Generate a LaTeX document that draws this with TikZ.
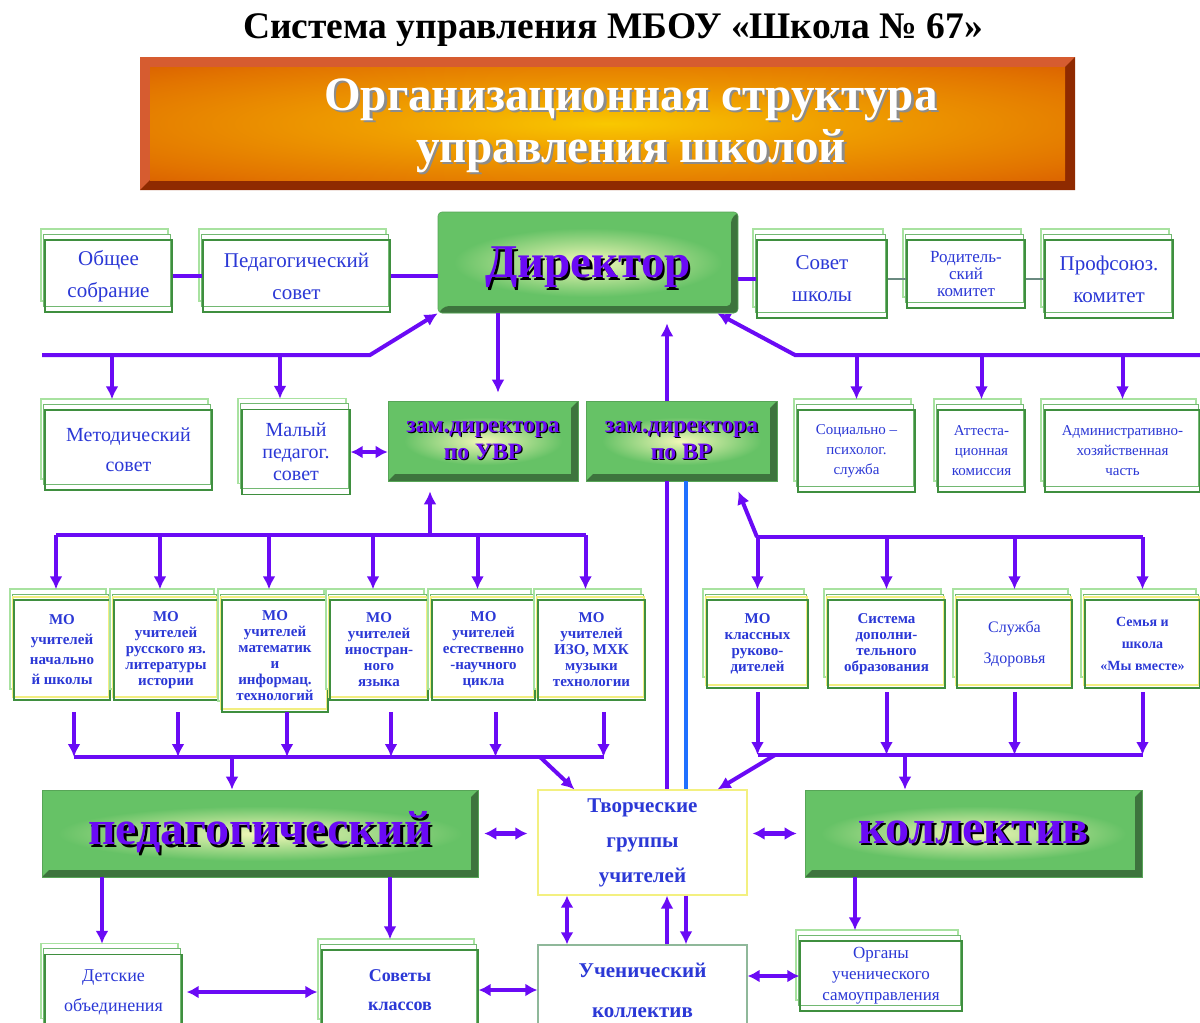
\documentclass[tikz,border=0pt]{standalone}
\usepackage{fontspec}
\setmainfont{Liberation Serif}
\newfontfamily\narrowserif[FakeStretch=0.98]{Liberation Serif}
\usetikzlibrary{arrows.meta,shadows}

\definecolor{arrowviolet}{HTML}{6A0AF5}
\definecolor{textblue}{HTML}{2B38D6}
\definecolor{boxgreen}{HTML}{66C266}
\definecolor{glowyellow}{HTML}{F2F8B8}
\definecolor{framegreen}{HTML}{3F8F3F}
\definecolor{midframe}{HTML}{72B872}
\definecolor{paleframe}{HTML}{A8E2A0}
\definecolor{paleyellow}{HTML}{F2EE80}
\definecolor{tvoryellow}{HTML}{F3F080}
\definecolor{uchgray}{HTML}{8FB89A}
\definecolor{linkgray}{HTML}{6A8A80}
\definecolor{lineblue}{HTML}{1F70FF}
\definecolor{bannerbevel}{HTML}{D65C30}
\definecolor{bannerred}{HTML}{CC3C00}
\definecolor{bannerorange}{HTML}{E27400}
\definecolor{bannermid}{HTML}{F0A000}
\definecolor{banneryellow}{HTML}{F9C800}

\newcommand\shadowed[2][black]{\leavevmode\rlap{\kern.05em\raisebox{-.05em}{\textcolor{#1}{#2}}}#2}

\pgfdeclareradialshading{bannerglow}{\pgfpoint{0bp}{0bp}}{%
  color(0bp)=(banneryellow); color(12bp)=(bannermid);
  color(30bp)=(bannerorange); color(50bp)=(bannerred)}

\tikzset{
  arr/.style={draw=arrowviolet, line width=4pt, -{Latex[length=13pt,width=13pt]}},
  arrc/.style={arr, shorten >=10pt},
  darr/.style={draw=arrowviolet, line width=4.5pt, {Latex[length=12pt,width=13pt]}-{Latex[length=12pt,width=13pt]}},
  vline/.style={draw=arrowviolet, line width=4pt},
  thinline/.style={draw=linkgray, line width=1.5pt},
  card/.style={draw=framegreen, line width=1.3pt, text=textblue, align=center, inner sep=1pt,
    font=\fontsize{21}{32}\selectfont,
    copy shadow={shadow xshift=-4pt, shadow yshift=11pt, draw=paleframe, fill=white, line width=1.3pt},
    copy shadow={shadow xshift=-2pt, shadow yshift=6pt, draw=midframe, fill=white, line width=1pt}},
  mo/.style={card, font=\bfseries\fontsize{15}{16}\selectfont,
    copy shadow={shadow xshift=-1pt, shadow yshift=3pt, draw=paleyellow, fill=white, line width=1.5pt}},
  greenbox/.style={fill=boxgreen, draw=boxgreen!85!black, line width=.6pt, text=arrowviolet, align=center,
    path picture={
      \fill[boxgreen!60!black] (path picture bounding box.south west) -- (path picture bounding box.south east)
        -- (path picture bounding box.north east) -- ([shift={(-7pt,-7pt)}]path picture bounding box.north east)
        -- ([shift={(-7pt,7pt)}]path picture bounding box.south east) -- ([shift={(7pt,7pt)}]path picture bounding box.south west) -- cycle;
      \shade[inner color=glowyellow, outer color=boxgreen]
        ([shift={(16pt,-16pt)}]path picture bounding box.north west) rectangle ([shift={(-16pt,16pt)}]path picture bounding box.south east);
    }},
  banner/.style={fill=bannerbevel,
    path picture={
      \fill[bannerred!70!black] (path picture bounding box.south west) -- (path picture bounding box.south east)
        -- (path picture bounding box.north east) -- ([shift={(-10pt,-10pt)}]path picture bounding box.north east)
        -- ([shift={(-10pt,10pt)}]path picture bounding box.south east) -- ([shift={(10pt,10pt)}]path picture bounding box.south west) -- cycle;
      \shade[shading=bannerglow] ([shift={(10pt,-10pt)}]path picture bounding box.north west) rectangle ([shift={(-10pt,10pt)}]path picture bounding box.south east);
    }},
  plainbox/.style={line width=1.2pt, fill=white, text=textblue, align=center, font=\bfseries\fontsize{21}{35}\selectfont}
}

\begin{document}
\begin{tikzpicture}[x=1pt,y=-1pt]
\useasboundingbox (0,0) rectangle (1200,1023);

% header
\node[font=\bfseries\fontsize{37.5}{42}\selectfont] (title) at (613,30) {Система управления МБОУ «Школа № 67»};
\node[banner, minimum width=935pt, minimum height=133pt] (banner) at (607.5,123.5) {};
\node[text=white, align=center, font=\narrowserif\bfseries\fontsize{48}{52}\selectfont] (bannertxt) at (631,127)
  {\shadowed[black!45]{Организационная структура}\\\shadowed[black!45]{управления школой}};

% director and councils
\node[greenbox, rounded corners=4pt, minimum width=300pt, minimum height=101pt, text depth=0pt,
  font=\bfseries\fontsize{47}{50}\selectfont] (dir) at (588,262.5) {\shadowed{Директор}};
\node[card, minimum width=127pt, minimum height=72pt] (obsh) at (108.5,276) {Общее\\собрание};
\node[card, minimum width=187pt, minimum height=72pt] (pedsov) at (296.5,276) {Педагогический\\совет};
\node[card, minimum width=130pt, minimum height=78pt] (sovsch) at (822,279) {Совет\\школы};
\node[card, minimum width=118pt, minimum height=68pt, font=\fontsize{17}{17}\selectfont] (rodkom) at (966,274) {Родитель-\\ский\\комитет};
\node[card, minimum width=128pt, minimum height=78pt] (profkom) at (1109,279) {Профсоюз.\\комитет};

% deputies row
\node[card, minimum width=167pt, minimum height=80pt, font=\fontsize{20}{30}\selectfont] (metsov) at (128.5,450) {Методический\\совет};
\node[card, minimum width=108pt, minimum height=85pt, font=\fontsize{20}{22}\selectfont] (malsov) at (296,452) {Малый\\педагог.\\совет};
\node[greenbox, minimum width=190pt, minimum height=80pt, font=\bfseries\fontsize{23.5}{27}\selectfont] (zamuvr) at (483,441) {\shadowed{зам.директора}\\\shadowed{по УВР}};
\node[greenbox, minimum width=191pt, minimum height=80pt, font=\bfseries\fontsize{23.5}{27}\selectfont] (zamvr) at (681.5,441) {\shadowed{зам.директора}\\\shadowed{по ВР}};
\node[card, minimum width=117pt, minimum height=82pt, font=\fontsize{15}{20}\selectfont] (socps) at (856.5,451) {Социально –\\психолог.\\служба};
\node[card, minimum width=87pt, minimum height=82pt, font=\fontsize{15}{20}\selectfont] (attest) at (981.5,451) {Аттеста-\\ционная\\комиссия};
\node[card, minimum width=155pt, minimum height=82pt, font=\fontsize{15}{20}\selectfont] (ahch) at (1122.5,451) {Административно-\\хозяйственная\\часть};

% method unions
\node[mo, minimum width=96pt, minimum height=100pt, font=\bfseries\fontsize{15}{20}\selectfont] (mo1) at (62,650) {МО\\учителей\\начально\\й школы};
\node[mo, minimum width=104pt, minimum height=100pt] (mo2) at (166,650) {МО\\учителей\\русского яз.\\литературы\\истории};
\node[mo, minimum width=106pt, minimum height=112pt] (mo3) at (275,656) {МО\\учителей\\математик\\и\\информац.\\технологий};
\node[mo, minimum width=98pt, minimum height=100pt] (mo4) at (379,650) {МО\\учителей\\иностран-\\ного\\языка};
\node[mo, minimum width=103pt, minimum height=100pt] (mo5) at (483.5,650) {МО\\учителей\\естественно\\-научного\\цикла};
\node[mo, minimum width=107pt, minimum height=100pt] (mo6) at (591.5,650) {МО\\учителей\\ИЗО, МХК\\музыки\\технологии};
\node[mo, minimum width=101pt, minimum height=88pt] (mok) at (757.5,644) {МО\\классных\\руково-\\дителей};
\node[mo, minimum width=117pt, minimum height=88pt] (dop) at (886.5,644) {Система\\дополни-\\тельного\\образования};
\node[mo, minimum width=115pt, minimum height=88pt, font=\fontsize{16}{31}\selectfont] (zdor) at (1014.5,644) {Служба\\Здоровья};
\node[mo, minimum width=115pt, minimum height=88pt, font=\bfseries\fontsize{14}{22}\selectfont] (semya) at (1142.5,644) {Семья и\\школа\\«Мы вместе»};

% collectives
\node[greenbox, minimum width=436pt, minimum height=87pt, font=\bfseries\fontsize{48}{50}\selectfont] (ped) at (260,833.5) {\shadowed{педагогический}};
\node[plainbox, draw=tvoryellow, minimum width=209pt, minimum height=105pt] (tvor) at (642.5,842.5) {Творческие\\группы\\учителей};
\node[greenbox, minimum width=337pt, minimum height=87pt, font=\bfseries\fontsize{48}{50}\selectfont] (koll) at (973.5,833.5) {\shadowed{коллектив}};
\node[card, minimum width=137pt, minimum height=75pt, font=\fontsize{18}{30}\selectfont] (det) at (113.5,992) {Детские\\объединения};
\node[card, minimum width=156pt, minimum height=80pt, font=\bfseries\fontsize{18}{29}\selectfont] (sovkl) at (400,990) {Советы\\классов};
\node[plainbox, draw=uchgray, minimum width=209pt, minimum height=90pt, font=\bfseries\fontsize{21}{40}\selectfont] (uch) at (642.5,990) {Ученический\\коллектив};
\node[card, minimum width=162pt, minimum height=70pt, font=\fontsize{17}{21}\selectfont] (org) at (881,976) {Органы\\ученического\\самоуправления};

% top links
\draw[vline] (obsh) -- (pedsov);
\draw[vline] (pedsov.east) -- (pedsov.east -| dir.west);
\draw[vline] (sovsch.west -| dir.east) -- (sovsch.west);
\draw[thinline] (sovsch.east) -- (sovsch.east -| rodkom.west);
\draw[thinline] (rodkom.east |- profkom.west) -- (profkom.west);

\coordinate (lbus) at (42,355);
\coordinate (lknee) at (370,355);
\coordinate (rbus) at (1200,355);
\coordinate (rknee) at (795,355);
\coordinate (metx) at (112,0);
\coordinate (malx) at (280,0);
\draw[arr] (lbus) -- (lknee) -- (dir.south west);
\draw[arr] (rbus) -- (rknee) -- ([xshift=-21pt]dir.south east);
\draw[arrc] (lbus -| metx) -- (metsov.north -| metx);
\draw[arrc] (lbus -| malx) -- (malsov.north -| malx);
\foreach \n in {socps,attest,ahch} \draw[arrc] (rbus -| \n.north) -- (\n.north);

\coordinate (uvrx) at (498,0);
\coordinate (vp) at (667,0);
\coordinate (vb) at (686,0);
\coordinate (vd) at (567,0);
\draw[arr, shorten >=8pt] (dir.south -| uvrx) -- (zamuvr.north -| uvrx);
\draw[arr, shorten >=10pt] (zamvr.north -| vp) -- (dir.south -| vp);
\draw[vline] (zamvr.south -| vp) -- (tvor.north -| vp);
\draw[draw=lineblue, line width=4pt] (zamvr.south -| vb) -- (tvor.north -| vb);
\draw[darr] (malsov.east) -- (malsov.east -| zamuvr.west);

% left unions
\coordinate (ubus) at (430,535);
\draw[arr, shorten >=10pt] (ubus) -- (ubus |- zamuvr.south);
\draw[vline, transform canvas={xshift=-6pt}] (mo1.north |- ubus) -- (mo6.north |- ubus);
\foreach \i in {1,...,6} \draw[arrc, transform canvas={xshift=-6pt}] (mo\i.north |- ubus) -- (mo\i.north);
\coordinate (lowbus) at (0,757);
\coordinate (motail) at (0,712);
\draw[vline, transform canvas={xshift=12pt}] (mo1.south |- lowbus) -- (mo6.south |- lowbus);
\foreach \i in {1,...,6} \draw[arr, transform canvas={xshift=12pt}] (mo\i.south |- motail) -- (mo\i.south |- lowbus);
\coordinate (pedin) at (232,757);
\coordinate (tvinl) at (540,757);
\draw[arr] (pedin) -- (pedin |- ped.north);
\draw[arr] (tvinl) -- ([xshift=37pt]tvor.north west);

% right unions
\coordinate (vrbus) at (757,537);
\draw[arr] (vrbus) -- ([xshift=-39pt,yshift=-10pt]zamvr.south east);
\draw[vline] (mok.north |- vrbus) -- (semya.north |- vrbus);
\foreach \n in {mok,dop,zdor,semya} \draw[arrc] (vrbus -| \n.north) -- (\n.north);
\coordinate (rlow) at (0,755);
\coordinate (rtail) at (0,692);
\draw[vline] (mok.south |- rlow) -- (semya.south |- rlow);
\foreach \n in {mok,dop,zdor,semya} \draw[arr] (\n.south |- rtail) -- (\n.south |- rlow);
\coordinate (kollin) at (905,755);
\coordinate (tvinr) at (775,755);
\draw[arr] (kollin) -- (kollin |- koll.north);
\draw[arr] (tvinr) -- ([xshift=-30pt]tvor.north east);

% collectives links
\draw[darr, shorten <=6pt, shorten >=10pt] (ped.east) -- (ped.east -| tvor.west);
\draw[darr, shorten <=5pt, shorten >=8pt] (koll.west -| tvor.east) -- (koll.west);
\draw[arr] (tvor.south -| vb) -- (uch.north -| vb);
\draw[arr] (uch.north -| vp) -- (tvor.south -| vp);
\draw[darr] (tvor.south -| vd) -- (uch.north -| vd);

\coordinate (detx) at (102,0);
\coordinate (sovx) at (390,0);
\coordinate (orgx) at (855,0);
\draw[arrc] (ped.south -| detx) -- (det.north -| detx);
\draw[arrc] (ped.south -| sovx) -- (sovkl.north -| sovx);
\draw[arrc] (koll.south -| orgx) -- (org.north -| orgx);
\draw[darr, shorten <=4pt, shorten >=4pt] (det.east) -- (det.east -| sovkl.west);
\draw[darr] (sovkl.east) -- (sovkl.east -| uch.west);
\draw[darr] (uch.east |- org.west) -- (org.west);
\end{tikzpicture}
\end{document}
